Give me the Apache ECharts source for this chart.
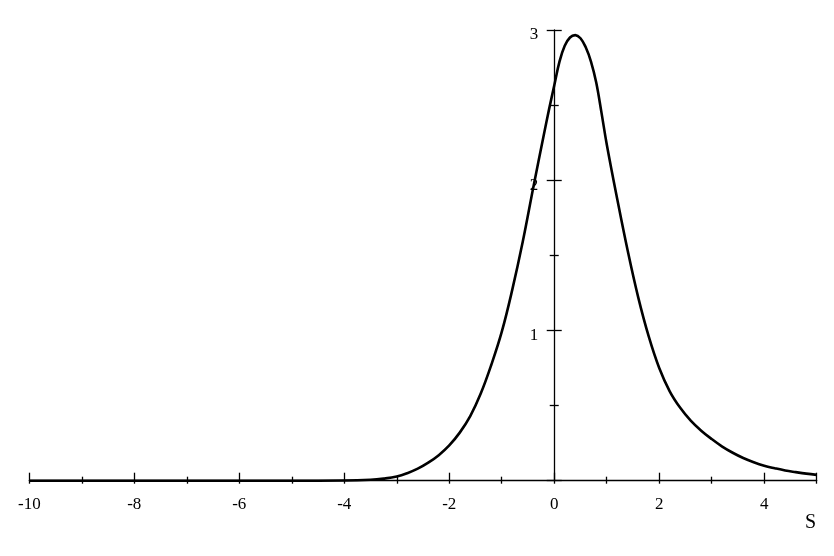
<!DOCTYPE html>
<html>
<head>
<meta charset="utf-8">
<script src="https://cdn.jsdelivr.net/npm/echarts@6/dist/echarts.min.js"></script>
<style>
  html, body { margin: 0; padding: 0; background: #fff; }
  #chart { width: 834px; height: 556px; }
</style>
</head>
<body>
<div id="chart"></div>
<script>
// values
const sValues = [-10, -5, -4, -3.5, -3.25, -3, -2.8, -2.6, -2.4, -2.2, -2, -1.8, -1.6, -1.4, -1.2, -1, -0.8, -0.6, -0.4, -0.2, -0.1,
  0, 0.1, 0.2, 0.3, 0.4, 0.5, 0.6, 0.7, 0.8, 0.9, 1, 1.2, 1.4, 1.6, 1.8,
  2, 2.2, 2.4, 2.6, 2.8, 3, 3.2, 3.4, 3.6, 3.8, 4, 4.2, 4.4, 4.6, 4.8, 5];
const yValues = [0, 0, 0.001, 0.006, 0.014, 0.028, 0.05, 0.08, 0.12, 0.17, 0.235, 0.32, 0.43, 0.58, 0.77, 0.99, 1.27, 1.59, 1.95, 2.3, 2.47,
  2.63, 2.79, 2.895, 2.95, 2.966, 2.945, 2.885, 2.79, 2.65, 2.45, 2.24, 1.875, 1.53, 1.22, 0.96,
  0.75, 0.595, 0.485, 0.4, 0.333, 0.277, 0.227, 0.186, 0.151, 0.123, 0.1, 0.083, 0.068, 0.057, 0.047, 0.039];
const xTickLabels = [-10, -8, -6, -4, -2, 0, 2, 4];
const yTickLabels = [1, 2, 3];

const xMin = -10, xMax = 5;
const gridLeft = 29.3, gridRight = 17.3;
const chartWidth = 834;
// y axis sits at s = 0, shifted in from the grid's left edge
const yAxisOffset = -((0 - xMin) / (xMax - xMin)) * (chartWidth - gridLeft - gridRight);

const chart = echarts.init(document.getElementById("chart"));
const font = "Liberation Serif";
const black = { color: "#000", width: 1.3 };

const option = {
  animation: false,
  backgroundColor: "#fff",
  grid: { left: gridLeft, right: gridRight, top: 30, bottom: 75.3 },
  xAxis: [
    {
      type: "value",
      min: xMin,
      max: xMax,
      interval: 2,
      position: "bottom",
      splitLine: { show: false },
      axisLine: { lineStyle: black },
      axisTick: { inside: true, length: 8, lineStyle: black },
      minorTick: { show: true, splitNumber: 2, length: 4, lineStyle: black },
      axisLabel: {
        margin: 15,
        color: "#000",
        fontFamily: font,
        fontSize: 17,
        formatter: (v) => (xTickLabels.includes(v) ? String(v) : "")
      }
    },
    {
      type: "value",
      min: xMin,
      max: xMax,
      interval: 2,
      position: "bottom",
      splitLine: { show: false },
      axisLine: { show: false },
      axisTick: { inside: false, length: 3, lineStyle: black },
      minorTick: { show: true, splitNumber: 2, length: 3, lineStyle: black },
      axisLabel: { show: false }
    }
  ],
  yAxis: [
    {
      type: "value",
      min: 0,
      max: 3,
      interval: 1,
      position: "left",
      offset: yAxisOffset,
      splitLine: { show: false },
      axisLine: { onZero: false, lineStyle: black },
      axisTick: { inside: true, length: 7.5, lineStyle: black },
      minorTick: { show: true, splitNumber: 2, length: 4.5, lineStyle: black },
      axisLabel: {
        margin: 16,
        color: "#000",
        fontFamily: font,
        fontSize: 17,
        verticalAlign: "top",
        lineHeight: 10,
        formatter: (v) => (yTickLabels.includes(v) ? String(v) : "")
      }
    },
    {
      type: "value",
      min: 0,
      max: 3,
      interval: 1,
      position: "left",
      offset: yAxisOffset,
      splitLine: { show: false },
      axisLine: { show: false, onZero: false },
      axisTick: { inside: false, length: 7.5, lineStyle: black },
      minorTick: { show: true, splitNumber: 2, length: 4.5, lineStyle: black },
      axisLabel: { show: false }
    }
  ],
  graphic: [
    {
      type: "text",
      left: 805,
      top: 513,
      style: { text: "S", fill: "#000", font: "20px " + font }
    }
  ],
  series: [
    {
      type: "line",
      data: sValues.map((s, i) => [s, yValues[i]]),
      showSymbol: false,
      smooth: 0.4,
      lineStyle: { color: "#000", width: 2.6 }
    }
  ]
};
chart.setOption(option);
</script>
</body>
</html>
